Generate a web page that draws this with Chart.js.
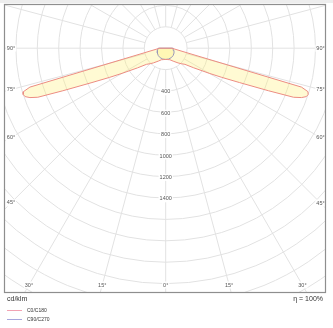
<!DOCTYPE html>
<html><head><meta charset="utf-8">
<script src="https://cdn.jsdelivr.net/npm/chart.js@4.4.0/dist/chart.umd.min.js"></script>
<style>
html,body{margin:0;padding:0;background:#fff;}
#wrap{position:relative;width:333px;height:328px;overflow:hidden;font-family:"Liberation Sans",Arial,sans-serif;}
#c{position:absolute;left:0;top:0;}
.t{position:absolute;color:#333;white-space:nowrap;line-height:1;}
.lg{position:absolute;height:1px;width:15px;}
#band{position:absolute;left:0;top:0;width:333px;height:3px;background:#ededed;}
</style></head><body>
<div id="wrap">
<div id="band"></div>
<canvas id="c" width="333" height="328"></canvas>
<div class="t" style="left:7px;top:295px;font-size:7px">cd/klm</div>
<div class="t" style="right:10px;top:295px;font-size:7px">η = 100%</div>
<div class="lg" style="left:7px;top:310px;background:#f2a3b3"></div>
<div class="t" style="left:27px;top:308px;font-size:5px">C0/C180</div>
<div class="lg" style="left:7px;top:319px;background:#a7a7dd"></div>
<div class="t" style="left:27px;top:317px;font-size:5px">C90/C270</div>
</div>
<script>
// ---- data (gamma angle from nadir in degrees, intensity in cd/klm) ----
const gammaC0C180 = [0, 10, 20, 30, 40, 45, 50, 55, 60, 62.5, 65, 67.5, 69, 70, 71, 72, 73, 74, 90];
const intensityC0C180 = [105, 108, 115, 140, 180, 205, 235, 320, 470, 590, 760, 1040, 1280, 1350, 1390, 1400, 1390, 1320, 56];
const gammaC90C270 = [0, 15, 30, 45, 60, 75, 90];
const intensityC90C270 = [105, 105, 103, 98, 90, 80, 70];
const ringValues = [200,400,600,800,1000,1200,1400,1600,1800,2000,2200,2400,2600,2800,3000];
const tickLabels = ['400','600','800','1000','1200','1400'];
const rayAngles = [0,15,30,45,60,75,90,105,120,135,150,165,180,195,210,225,240,255,270,285,300,315,330,345];
const angleLabelGammas = [-90,-75,-60,-45,-30,-15,0,15,30,45,60,75,90];
const seriesNames = ['C0/C180','C90/C270'];

// polar (gamma from nadir) -> cartesian in cd units; left half = C180/C270, right = C0/C90
function closedCurve(gammas, vals){
  const pts = [];
  for (let i = gammas.length-1; i >= 0; i--) {
    const t = gammas[i]*Math.PI/180;
    pts.push({x: -vals[i]*Math.sin(t), y: -vals[i]*Math.cos(t)});
  }
  for (let i = 1; i < gammas.length; i++) {
    const t = gammas[i]*Math.PI/180;
    pts.push({x: vals[i]*Math.sin(t), y: -vals[i]*Math.cos(t)});
  }
  pts.push({...pts[0]});
  return pts;
}

const FONT = '"Liberation Sans", Arial, sans-serif';

const polarGrid = {
  id: 'polarGrid',
  beforeDraw(chart){
    const {ctx, chartArea:a, scales:{x, y}} = chart;
    const cx = x.getPixelForValue(0), cy = y.getPixelForValue(0);
    const k = (x.getPixelForValue(1000) - cx)/1000;
    ctx.save();
    ctx.beginPath(); ctx.rect(a.left, a.top, a.right-a.left, a.bottom-a.top); ctx.clip();
    ctx.strokeStyle = '#e2e2e2'; ctx.lineWidth = 1;
    ringValues.forEach(v => { ctx.beginPath(); ctx.arc(cx, cy, v*k, 0, 2*Math.PI); ctx.stroke(); });
    const r0 = ringValues[0]*k, r1 = ringValues[ringValues.length-1]*k;
    rayAngles.forEach(g => {
      const t = g*Math.PI/180, sx = Math.sin(t), sy = Math.cos(t);
      ctx.beginPath(); ctx.moveTo(cx+sx*r0, cy+sy*r0); ctx.lineTo(cx+sx*r1, cy+sy*r1); ctx.stroke();
    });
    // tick labels on nadir ray
    ctx.font = '5.5px ' + FONT; ctx.textAlign = 'center'; ctx.textBaseline = 'middle';
    tickLabels.forEach(s => {
      const py = cy + Number(s)*k + 0.8;
      const w = ctx.measureText(s).width;
      ctx.fillStyle = '#fff'; ctx.fillRect(cx - w/2 - 1, py - 3.5, w + 2, 7);
      ctx.fillStyle = '#555'; ctx.fillText(s, cx, py);
    });
    // angle labels where rays meet an inset rectangle
    const L = a.left + 7, R = a.right - 5.5, B = a.bottom - 7;
    angleLabelGammas.forEach(g => {
      const t = g*Math.PI/180, sx = Math.sin(t), sy = Math.cos(t);
      let d = Infinity;
      if (sx < -1e-9) d = Math.min(d, (L - cx)/sx);
      if (sx > 1e-9) d = Math.min(d, (R - cx)/sx);
      if (sy > 1e-9) d = Math.min(d, (B - cy)/sy);
      const px = cx + sx*d, py = cy + sy*d;
      const s = Math.abs(g) + '°';
      const w = ctx.measureText(s).width;
      ctx.fillStyle = '#fff'; ctx.fillRect(px - w/2 - 1, py - 3.5, w + 2, 7);
      ctx.fillStyle = '#555'; ctx.fillText(s, px, py);
    });
    ctx.restore();
  },
  afterDraw(chart){
    const {ctx, chartArea:a} = chart;
    ctx.save();
    ctx.strokeStyle = '#8e8e8e'; ctx.lineWidth = 1.2;
    ctx.strokeRect(a.left + 0.5, a.top + 0.5, a.right - a.left - 1, a.bottom - a.top);
    ctx.restore();
  }
};

new Chart(document.getElementById('c'), {
  type: 'scatter',
  data: {
    datasets: [
      {
        label: seriesNames[0],
        data: closedCurve(gammaC0C180, intensityC0C180),
        showLine: true, tension: 0, pointRadius: 0, pointHoverRadius: 0,
        borderColor: '#ec8c82', borderWidth: 1,
        backgroundColor: 'rgba(255,238,110,0.3)', fill: 'shape', order: 0
      },
      {
        label: seriesNames[1],
        data: closedCurve(gammaC90C270, intensityC90C270),
        showLine: true, tension: 0, pointRadius: 0, pointHoverRadius: 0,
        borderColor: '#9a98b8', borderWidth: 1,
        backgroundColor: 'rgba(255,238,110,0.3)', fill: 'shape', order: 1
      }
    ]
  },
  options: {
    responsive: false, animation: false, events: [],
    layout: {padding: {left: 4, top: 4, right: 7, bottom: 36}},
    scales: {
      x: {type: 'linear', display: false, min: -1511, max: 1498},
      y: {type: 'linear', display: false, min: -2279, max: 413}
    },
    plugins: {legend: {display: false}, tooltip: {enabled: false}, filler: {drawTime: 'beforeDatasetsDraw'}}
  },
  plugins: [polarGrid]
});
</script>
</body></html>
